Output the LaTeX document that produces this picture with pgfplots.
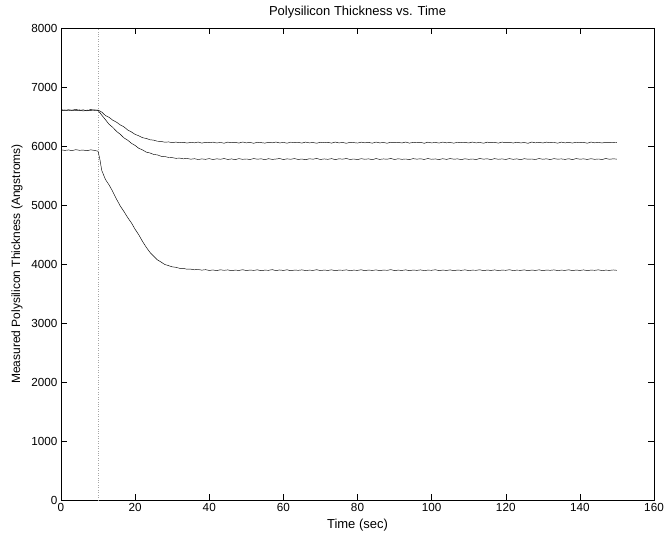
\documentclass[border=0pt]{standalone}
\usepackage{fontspec}
\setmainfont{Liberation Sans}
\usepackage{pgfplots}
\pgfplotsset{compat=1.18}
\usepackage{pgfplotstable}
\pgfplotstableread{
t A B C
0 6618 6594 5936
1 6603 6611 5925
2 6615 6597 5933
3 6607 6606 5922
4 6622 6598 5938
5 6601 6612 5927
6 6613 6593 5931
7 6596 6608 5920
8 6620 6601 5935
9 6604 6614 5926
10 6610 6600 5912
10.5 6592 6565 5770
11 6575 6522 5585
12 6515 6445 5432
13 6484 6366 5338
14 6436 6314 5224
15 6403 6247 5097
16 6356 6198 4982
17 6324 6137 4888
18 6271 6098 4786
19 6238 6046 4697
20 6197 6009 4588
21 6173 5961 4493
22 6141 5934 4382
23 6128 5896 4284
24 6106 5882 4197
25 6099 5857 4133
26 6081 5849 4071
27 6078 5826 4033
28 6064 5822 3992
29 6069 5806 3973
30 6058 5803 3952
31 6066 5791 3944
32 6055 5795 3927
33 6063 5783 3925
34 6050 5789 3912
35 6061 5776 3913
36 6054 5785 3902
37 6067 5771 3907
38 6049 5781 3896
39 6062 5774 3904
40 6056 5786 3891
41 6065 5770 3899
42 6051 5783 3888
43 6060 5775 3902
44 6047 5788 3893
45 6066 5772 3900
46 6055 5781 3886
47 6062 5769 3897
48 6050 5786 3891
49 6068 5774 3903
50 6053 5780 3889
51 6061 5771 3898
52 6046 5787 3892
53 6064 5776 3901
54 6057 5783 3887
55 6049 5768 3896
56 6063 5785 3893
57 6054 5773 3904
58 6067 5779 3888
59 6052 5788 3899
60 6060 5770 3891
61 6048 5782 3902
62 6065 5775 3886
63 6056 5787 3897
64 6061 5772 3893
65 6050 5780 3900
66 6066 5768 3889
67 6053 5784 3896
68 6059 5776 3892
69 6047 5789 3903
70 6064 5771 3888
71 6055 5781 3898
72 6062 5774 3891
73 6049 5786 3901
74 6067 5769 3887
75 6052 5783 3897
76 6060 5777 3893
77 6046 5788 3900
78 6063 5772 3889
79 6057 5780 3896
80 6050 5770 3892
81 6065 5785 3902
82 6054 5775 3887
83 6061 5782 3898
84 6048 5768 3891
85 6066 5787 3900
86 6053 5773 3888
87 6059 5781 3897
88 6047 5776 3893
89 6064 5789 3904
90 6056 5771 3889
91 6062 5784 3896
92 6051 5774 3891
93 6067 5780 3901
94 6049 5769 3887
95 6060 5786 3898
96 6055 5777 3892
97 6063 5783 3900
98 6046 5772 3889
99 6065 5788 3896
100 6052 5775 3893
101 6061 5781 3903
102 6050 5770 3888
103 6066 5785 3897
104 6054 5773 3891
105 6059 5787 3900
106 6048 5776 3887
107 6064 5782 3898
108 6057 5769 3892
109 6062 5784 3901
110 6051 5774 3889
111 6067 5780 3896
112 6053 5771 3893
113 6060 5788 3902
114 6047 5777 3887
115 6065 5783 3898
116 6055 5770 3891
117 6061 5786 3900
118 6049 5775 3888
119 6066 5781 3897
120 6056 5772 3893
121 6063 5787 3903
122 6050 5774 3889
123 6064 5782 3896
124 6052 5768 3892
125 6059 5785 3900
126 6046 5776 3887
127 6067 5780 3898
128 6054 5771 3891
129 6062 5788 3901
130 6051 5775 3888
131 6065 5783 3897
132 6057 5770 3893
133 6060 5786 3900
134 6048 5777 3889
135 6066 5781 3896
136 6053 5773 3892
137 6061 5784 3902
138 6050 5769 3887
139 6064 5787 3898
140 6055 5776 3891
141 6062 5782 3900
142 6047 5772 3888
143 6067 5785 3897
144 6054 5774 3893
145 6060 5780 3901
146 6051 5771 3889
147 6063 5788 3896
148 6056 5775 3892
149 6061 5783 3899
150 6058 5777 3893
}\datatable
\begin{document}
\begin{tikzpicture}
\begin{axis}[
  scale only axis,
  width=593pt, height=472pt,
  xmin=0, xmax=160, ymin=0, ymax=8000,
  xtick={0,20,...,160},
  ytick={0,1000,...,8000},
  tick align=inside,
  xtick pos=both, ytick pos=both,
  major tick length=6pt,
  tick style={black, line width=0.5pt},
  axis line style={line width=0.6pt},
  scaled ticks=false,
  /pgf/number format/1000 sep={},
  /pgf/number format/assume math mode=true,
  tick label style={font=\fontsize{11.7}{13}\selectfont},
  xlabel style={font=\fontsize{13}{15}\selectfont},
  ylabel style={font=\fontsize{12}{14}\selectfont},
  ylabel shift=2pt,
  title style={font=\fontsize{13}{15}\selectfont},
  title={Polysilicon Thickness vs. Time},
  xlabel={Time (sec)},
  ylabel={Measured Polysilicon Thickness (Angstroms)},
  every axis plot/.append style={line width=0.45pt, no markers},
]
\addplot[gray!70, dotted, line width=0.5pt] coordinates {(10,0) (10,8000)};
\addplot[black] table[x=t, y=A] {\datatable};
\addplot[black] table[x=t, y=B] {\datatable};
\addplot[black] table[x=t, y=C] {\datatable};
\coordinate (ll) at (rel axis cs:0,0);
\coordinate (ur) at (rel axis cs:1,1);
\end{axis}
\pgfresetboundingbox
\path ([shift={(-61pt,-33pt)}]ll) rectangle ([shift={(14pt,28pt)}]ur);
\end{tikzpicture}
\end{document}
